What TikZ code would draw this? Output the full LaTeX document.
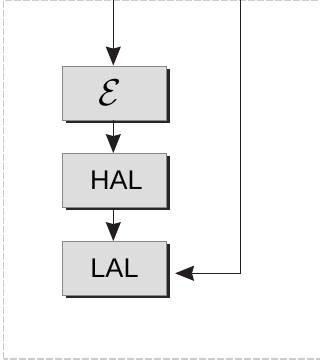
\documentclass[tikz,border=0pt]{standalone}
\usepackage{fontspec}
\setmainfont{Liberation Sans}
\usepackage{tikz}
\usetikzlibrary{arrows.meta,shadows}
\definecolor{boxgray}{HTML}{DDDDDD}
\definecolor{edgegray}{HTML}{888888}
\definecolor{ink}{HTML}{231F20}
\tikzset{blk/.style={rectangle,draw=edgegray,fill=boxgray,line width=0.8pt,minimum width=104pt,minimum height=54pt,inner sep=0pt,font=\fontsize{27}{30}\selectfont,drop shadow={shadow xshift=3pt,shadow yshift=-3pt,fill=black!85,opacity=1}}}

\begin{document}
\begin{tikzpicture}[x=1pt,y=1pt,>={Stealth[length=19pt,width=15pt,inset=2pt]}]
    \useasboundingbox (0,0) rectangle (320,362);
    \draw [black!20,line width=1.3pt,dash pattern=on 7pt off 2pt] (3.5,3) rectangle (322,361.5);

    \node[blk] (eps) at (114.5,269) {\scalebox{1.5}{$\mathcal{E}$}\hspace*{8pt}};
    \node[blk] (hal) at (114.5,181.5) {\hspace*{4pt}HAL};
    \node[blk] (lal) at (114.5,93.5) {LAL};

    \coordinate (top) at (113.3,362);
    \coordinate (rtop) at (240,362);
    \coordinate (rin) at (175,88.7);

    \draw [->,ink,line width=1pt] (top) to (eps.north -| top);
    \draw [->,ink,line width=1pt] (eps.south -| top) to (hal.north -| top);
    \draw [->,ink,line width=1pt] (hal.south -| top) to (lal.north -| top);
    \draw [->,ink,line width=1pt] (rtop) |- (rin);
\end{tikzpicture}
\end{document}
